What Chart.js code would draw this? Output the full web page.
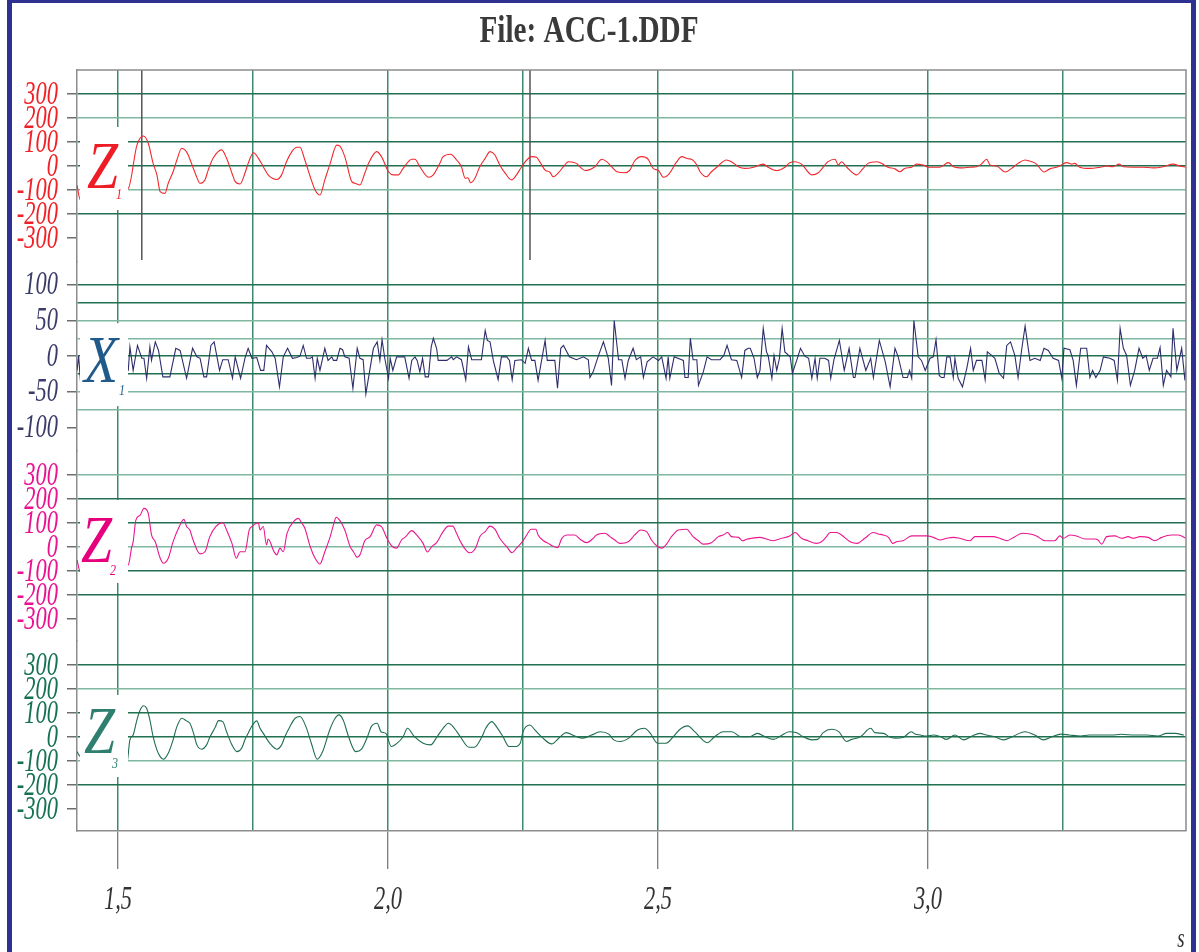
<!DOCTYPE html>
<html>
<head>
<meta charset="utf-8">
<title>File: ACC-1.DDF</title>
<script src="https://cdn.jsdelivr.net/npm/chart.js@4.4.1/dist/chart.umd.min.js"></script>
<style>
  html, body { margin: 0; padding: 0; background: #fff; }
</style>
</head>
<body>
<canvas id="chart1" width="1199" height="952"></canvas>
<script>
var chartTitle = 'File: ACC-1.DDF';

// time axis (s)
var timeMin = 1.424;
var timeMax = 3.478;
var timeTicks = [1.5, 1.75, 2.0, 2.25, 2.5, 2.75, 3.0, 3.25];
var timeLabelValues = [1.5, 2.0, 2.5, 3.0];
var timeLabels = ['1,5', '2,0', '2,5', '3,0'];
var timeUnit = 's';

// amplitude ticks
var zTicks = [300, 200, 100, 0, -100, -200, -300];
var xTicks = [100, 75, 50, 25, 0, -25, -50, -75, -100];
var xTickLabels = [100, 50, 0, -50, -100];

// channel names
var channelNames = ['Z', 'X', 'Z', 'Z'];
var channelSubs = ['1', '1', '2', '3'];

// event marks on the Z1 trace
var markerTimes = [1.544, 2.263];
var markerSpan = [400, -392];

// Z1
var z1Time = [
  1.424, 1.430, 1.519, 1.535, 1.547, 1.556, 1.565, 1.572, 1.578, 1.587,
  1.593, 1.602, 1.609, 1.618, 1.624, 1.630, 1.636, 1.643, 1.652, 1.661,
  1.667, 1.676, 1.692, 1.701, 1.711, 1.717, 1.726, 1.735, 1.741, 1.751,
  1.760, 1.769, 1.778, 1.794, 1.803, 1.812, 1.822, 1.831, 1.837, 1.846,
  1.856, 1.865, 1.874, 1.883, 1.893, 1.905, 1.911, 1.920, 1.933, 1.939,
  1.948, 1.957, 1.964, 1.979, 1.988, 2.001, 2.010, 2.019, 2.028, 2.044,
  2.050, 2.059, 2.075, 2.084, 2.096, 2.102, 2.116, 2.127, 2.136, 2.143,
  2.148, 2.153, 2.161, 2.170, 2.180, 2.189, 2.198, 2.207, 2.217, 2.229,
  2.238, 2.247, 2.257, 2.266, 2.275, 2.281, 2.291, 2.300, 2.306, 2.315,
  2.325, 2.334, 2.349, 2.356, 2.365, 2.383, 2.396, 2.405, 2.414, 2.424,
  2.439, 2.448, 2.457, 2.470, 2.482, 2.491, 2.501, 2.510, 2.519, 2.535,
  2.544, 2.556, 2.562, 2.572, 2.578, 2.590, 2.599, 2.609, 2.627, 2.636,
  2.649, 2.661, 2.677, 2.695, 2.704, 2.720, 2.735, 2.744, 2.754, 2.766,
  2.785, 2.797, 2.815, 2.828, 2.834, 2.840, 2.849, 2.868, 2.880, 2.889,
  2.905, 2.914, 2.926, 2.939, 2.948, 2.957, 2.970, 2.979, 2.991, 3.001,
  3.022, 3.038, 3.047, 3.065, 3.078, 3.090, 3.099, 3.109, 3.115, 3.127,
  3.143, 3.155, 3.167, 3.180, 3.192, 3.201, 3.215, 3.226, 3.241, 3.257,
  3.266, 3.272, 3.281, 3.300, 3.319, 3.331, 3.343, 3.354, 3.362, 3.380,
  3.398, 3.417, 3.436, 3.454, 3.466, 3.478
];
var z1Value = [
  -80, -140, -93, 87, 125, 95, 11, -37, -107, -114,
  -72, -24, 25, 74, 67, 46, 11, -30, -72, -58,
  -17, 32, 67, 32, -30, -65, -75, -30, 11, 55,
  32, -3, -37, -56, -37, 18, 60, 78, 78, 25,
  -45, -100, -121, -58, 11, 87, 83, 39, -65, -72,
  -79, -30, 11, 60, 39, -24, -37, -37, -10, 28,
  28, -3, -47, -37, 11, 39, 49, 25, -3, -51,
  -49, -70, -51, -3, 32, 60, 46, 4, -30, -58,
  -37, -5, 25, 39, 36, 18, -17, -26, -45, -30,
  -3, 18, 11, -5, -19, -3, 28, 18, -3, -24,
  -28, -17, 22, 39, 28, -10, -19, -47, -37, 18,
  39, 30, 28, 4, -24, -45, -24, -5, 25, 18,
  -3, -10, -5, 8, -5, -19, -5, 14, 18, 8,
  -37, -28, 18, 28, 4, 18, -3, -37, -10, 11,
  18, 11, -5, -12, -24, -10, -5, 8, 4, -5,
  -5, 14, -3, -8, -5, -3, 8, 28, 4, 0,
  -25, -10, 11, 25, 18, 8, -25, -12, -3, 14,
  8, 11, -5, -10, -5, 0, -3, 8, -3, -5,
  -5, -8, -3, 8, 0, -5
];

// X1
var x1Time = [
  1.424, 1.427, 1.431, 1.519, 1.522, 1.528, 1.536, 1.544, 1.548, 1.553,
  1.559, 1.562, 1.569, 1.575, 1.583, 1.596, 1.607, 1.615, 1.627, 1.638,
  1.646, 1.652, 1.659, 1.664, 1.672, 1.678, 1.688, 1.694, 1.704, 1.712,
  1.717, 1.727, 1.735, 1.741, 1.748, 1.757, 1.764, 1.770, 1.775, 1.785,
  1.791, 1.799, 1.806, 1.814, 1.823, 1.831,
  1.837, 1.843, 1.849, 1.856, 1.860, 1.865, 1.869, 1.874, 1.883, 1.889,
  1.896, 1.899, 1.905, 1.911, 1.916, 1.920, 1.928, 1.935, 1.943, 1.948,
  1.954, 1.959, 1.973, 1.980, 1.985, 1.989, 1.994, 2.001, 2.004, 2.009,
  2.016, 2.031, 2.039, 2.044, 2.050, 2.054, 2.059, 2.064, 2.069, 2.075,
  2.080, 2.084, 2.090, 2.093, 2.109, 2.118, 2.121, 2.127, 2.136, 2.144,
  2.149, 2.155, 2.173, 2.180, 2.184, 2.189, 2.195, 2.204, 2.210, 2.220,
  2.225, 2.230, 2.235, 2.247, 2.254, 2.260, 2.266, 2.272, 2.278, 2.291,
  2.295, 2.309, 2.314, 2.320, 2.325, 2.336, 2.349, 2.362, 2.371, 2.374,
  2.380, 2.389, 2.399, 2.408, 2.414, 2.419, 2.427, 2.433, 2.439, 2.445,
  2.454, 2.460, 2.468, 2.473, 2.480, 2.491, 2.501, 2.507, 2.515, 2.519,
  2.522, 2.530, 2.547, 2.550, 2.556, 2.560, 2.565, 2.572, 2.575, 2.584,
  2.591, 2.599, 2.615, 2.622, 2.628, 2.636, 2.646, 2.655, 2.661, 2.667,
  2.671, 2.678, 2.684, 2.689, 2.695, 2.701, 2.704, 2.711, 2.715, 2.720,
  2.725, 2.730, 2.735, 2.745, 2.749, 2.757, 2.764, 2.772, 2.779, 2.785,
  2.791, 2.795, 2.800, 2.809, 2.816, 2.820, 2.826, 2.836, 2.845, 2.854,
  2.862, 2.865, 2.874, 2.885, 2.894, 2.899, 2.910, 2.921, 2.930, 2.939,
  2.945, 2.954, 2.962, 2.966, 2.970, 2.974, 2.982, 2.988, 2.995, 3.004,
  3.010, 3.015, 3.021, 3.025, 3.030, 3.035, 3.041, 3.047, 3.050, 3.056,
  3.064, 3.072, 3.079, 3.084, 3.090, 3.100, 3.106, 3.110, 3.118, 3.124,
  3.132, 3.140, 3.146, 3.153, 3.161, 3.167, 3.174, 3.180, 3.189, 3.198,
  3.208, 3.215, 3.223, 3.232, 3.242, 3.248, 3.252, 3.263, 3.269, 3.275,
  3.283, 3.294, 3.300, 3.305, 3.311, 3.319, 3.325, 3.337, 3.345, 3.351,
  3.356, 3.362, 3.368, 3.375, 3.383, 3.391, 3.398, 3.404, 3.410, 3.417,
  3.425, 3.430, 3.436, 3.442, 3.450, 3.454, 3.461, 3.470, 3.476, 3.479
];
var x1Value = [
  -20, 0, -41, -20, 13, -20, 15, -3, -3, -31,
  13, -6, 20, 8, -29, -29, 11, 8, -31, 11,
  -1, -3, -29, -29, 15, 20, -20, -5, -5, -31,
  -1, -31, -3, 11, -3, -2, -20, -20, 15, 6,
  -3, -43, -1, 11, -3, -2,
  0, 15, -3, -3, -1, -31, -3, -20, 11, -6,
  -1, -6, -6, 11, 9, -1, -3, -45, 11, -3,
  -5, -53, 11, 20, -6, 23, -3, -31, -3, -20,
  -1, -1, -31, -6, -1, -6, -22, -3, -29, -29,
  13, 25, 11, -6, -6, -1, -5, -1, -5, -33,
  13, -5, -5, 36, 22, 20, -6, -33, -1, -1,
  -6, -33, -6, -5, -10, 11, -6, -6, -34, 22,
  -6, -6, -45, 11, 15, -1, -5, -1, -5, -30,
  -22, -1, 20, -3, -41, 50, -5, -5, -31, -6,
  11, -5, -1, -30, -8, -1, -6, -1, -31, -1,
  -31, -1, -6, -30, -30, 25, -5, -5, -41, -22,
  -1, -5, -5, 1, 15, -5, -6, -30, 8, 11,
  11, -3, -30, -20, 39, 6, 1, -31, 1, -20,
  -3, 39, 6, -1, -24, -6, 11, 0, -3, -31,
  -3, -31, -3, -3, -6, -31, -5, 22, -20, 11,
  -30, -30, 11, -20, -3, -30, 22, -8, -43, 11,
  -1, -30, -30, -20, -31, 50, -1, -6, -20, -3,
  -1, 23, -27, -30, -30, -1, -1, -30, -3, -31,
  -43, -17, 11, -20, -6, -6, -33, 6, 1, -3,
  -24, -31, 15, 20, 1, -30, 11, 42, -6, -3,
  -6, 11, 8, -3, -6, -31, 11, 9, -6, -41,
  11, 11, -30, -20, -30, -20, -1, -3, -6, -34,
  39, 11, 1, -41, -20, 11, -3, 1, -20, -3,
  -3, 12, -41, -20, -29, 39, -20, 11, -34, -6
];

// Z2
var z2Time = [
  1.424, 1.430, 1.519, 1.525, 1.528, 1.533, 1.541, 1.548, 1.556, 1.562,
  1.569, 1.577, 1.584, 1.593, 1.602, 1.612, 1.622, 1.627, 1.633, 1.639,
  1.652, 1.661, 1.670, 1.681, 1.694, 1.701, 1.711, 1.719, 1.726, 1.735,
  1.743, 1.749, 1.760, 1.763, 1.769, 1.775, 1.778, 1.789, 1.794, 1.800,
  1.806, 1.813, 1.825, 1.834, 1.840, 1.846, 1.856, 1.865, 1.874, 1.883,
  1.893, 1.899, 1.904, 1.911, 1.920, 1.930, 1.936, 1.943, 1.948, 1.957,
  1.967, 1.979, 1.988, 1.998, 2.007, 2.016, 2.025, 2.033, 2.044, 2.053,
  2.065, 2.073, 2.081, 2.090, 2.102, 2.112, 2.120, 2.127, 2.136, 2.146,
  2.152, 2.163, 2.170, 2.180, 2.189, 2.198, 2.207, 2.220, 2.230, 2.238,
  2.249, 2.257, 2.265, 2.274, 2.278, 2.288, 2.297, 2.305, 2.314, 2.322,
  2.331, 2.346, 2.356, 2.368, 2.380, 2.386, 2.402, 2.411, 2.420, 2.430,
  2.445, 2.457, 2.468, 2.479, 2.488, 2.498, 2.507, 2.516, 2.525, 2.538,
  2.553, 2.565, 2.575, 2.584, 2.599, 2.612, 2.621, 2.629, 2.636, 2.649,
  2.657, 2.664, 2.673, 2.689, 2.713, 2.729, 2.744, 2.754, 2.766, 2.778,
  2.793, 2.803, 2.811, 2.819, 2.831, 2.840, 2.856, 2.869, 2.883, 2.899,
  2.908, 2.917, 2.927, 2.935, 2.942, 2.954, 2.970, 2.985, 2.997, 3.010,
  3.022, 3.035, 3.047, 3.059, 3.078, 3.087, 3.102, 3.121, 3.133, 3.146,
  3.161, 3.175, 3.189, 3.201, 3.217, 3.235, 3.244, 3.251, 3.263, 3.275,
  3.291, 3.309, 3.315, 3.322, 3.331, 3.346, 3.359, 3.371, 3.380, 3.393,
  3.408, 3.420, 3.433, 3.451, 3.464, 3.478
];
var z2Value = [
  -54, -103, -75, -5, 22, 112, 133, 161, 140, 50,
  22, -40, -68, -47, 22, 78, 115, 85, 71, 29,
  -29, -20, 43, 85, 101, 71, 15, -47, -20, -20,
  71, 87, 101, 71, 85, 8, 33, -20, -33, -5,
  -20, 57, 105, 119, 101, 78, 1, -47, -71, -20,
  43, 92, 124, 110, 71, 1, -20, -43, -33, 26,
  43, 92, 85, 36, 4, -5, 29, 43, 68, 50,
  15, -21, 1, 18, 64, 87, 87, 57, 15, -17,
  -24, -1, 43, 64, 87, 74, 36, 1, -24, -5,
  22, 50, 74, 74, 50, 26, 15, 4, -3, 36,
  50, 50, 32, 18, 36, 50, 57, 43, 29, 15,
  22, 50, 71, 64, 29, 4, -5, 12, 43, 71,
  74, 43, 26, 12, 18, 43, 50, 60, 43, 40,
  26, 32, 36, 40, 26, 36, 46, 60, 36, 26,
  15, 22, 40, 60, 60, 50, 22, 15, 36, 60,
  54, 50, 40, 15, 22, 26, 46, 46, 46, 40,
  29, 36, 40, 36, 26, 43, 43, 43, 36, 26,
  43, 57, 54, 46, 26, 26, 46, 36, 50, 46,
  33, 33, 29, 12, 43, 46, 36, 43, 36, 43,
  40, 26, 40, 50, 50, 36
];

// Z3
var z3Time = [
  1.424, 1.430, 1.516, 1.522, 1.528, 1.535, 1.541, 1.547, 1.553, 1.559,
  1.565, 1.572, 1.578, 1.584, 1.593, 1.602, 1.609, 1.618, 1.626, 1.633,
  1.639, 1.646, 1.655, 1.664, 1.670, 1.680, 1.686, 1.694, 1.701, 1.711,
  1.720, 1.729, 1.735, 1.741, 1.748, 1.757, 1.763, 1.769, 1.781, 1.794,
  1.803, 1.809, 1.819, 1.828, 1.837, 1.848, 1.858, 1.869, 1.879, 1.892,
  1.901, 1.909, 1.917, 1.927, 1.940, 1.951, 1.962, 1.969, 1.980, 1.987,
  1.996, 2.006, 2.017, 2.028, 2.036, 2.049, 2.065, 2.079, 2.091, 2.102,
  2.112, 2.123, 2.134, 2.150, 2.160, 2.174, 2.181, 2.192, 2.203, 2.213,
  2.224, 2.235, 2.245, 2.250, 2.263, 2.271, 2.287, 2.303, 2.319, 2.330,
  2.346, 2.361, 2.377, 2.393, 2.409, 2.418, 2.430, 2.446, 2.462, 2.475,
  2.486, 2.499, 2.515, 2.531, 2.541, 2.555, 2.568, 2.584, 2.591, 2.605,
  2.621, 2.637, 2.653, 2.670, 2.684, 2.700, 2.714, 2.727, 2.743, 2.757,
  2.769, 2.785, 2.796, 2.806, 2.822, 2.835, 2.849, 2.859, 2.875, 2.894,
  2.902, 2.918, 2.928, 2.939, 2.955, 2.969, 2.976, 2.986, 2.997, 3.011,
  3.024, 3.034, 3.050, 3.066, 3.082, 3.096, 3.108, 3.124, 3.140, 3.156,
  3.180, 3.198, 3.214, 3.230, 3.246, 3.262, 3.283, 3.299, 3.320, 3.341,
  3.357, 3.384, 3.405, 3.426, 3.442, 3.458, 3.474
];
var z3Value = [
  -61, -82, -117, -12, 8, 71, 112, 130, 120, 71,
  1, -54, -82, -93, -68, -12, 43, 78, 68, 57,
  22, -33, -51, -33, -1, 40, 68, 64, 22, -33,
  -61, -47, -12, 15, 46, 67, 36, 15, -26, -51,
  -33, 1, 46, 78, 85, 43, -26, -93, -61, 29,
  74, 92, 71, 1, -61, -51, 1, 43, 57, 22,
  15, -40, -26, 1, 36, 1, -26, -33, 1, 36,
  57, 36, 1, -43, -43, 1, 36, 64, 36, 1,
  -40, -40, -26, 22, 50, 32, -5, -29, 1, 18,
  4, -5, 8, 22, 12, -12, -19, -5, 29, 36,
  15, -26, -26, 8, 32, 46, 22, -15, -24, 1,
  22, 22, 1, 1, 15, -1, -10, 4, 22, 18,
  1, -12, -10, 18, 32, 22, -19, -10, 1, 36,
  18, 15, 1, -5, -1, 22, 12, 8, 4, 8,
  1, -10, 8, -12, 4, 15, 8, 1, -12, 1,
  22, 8, -12, 1, 12, 8, 4, 8, 8, 8,
  11, 8, 8, 4, 15, 15, 8
];

function pts(ts, vs) {
  return ts.map(function (t, i) { return { x: t, y: vs[i] }; });
}

// per panel look
var panelStyle = {
  yZ1: { line: '#f0282d', tick: '#ee2227', big: '#ee1d25', box: [-39, 44], base: 22, letterX: 87, subX: 116, subBase: 33 },
  yX1: { line: '#2d2e6b', tick: '#3b3b69', big: '#1f5a8a', box: [-33, 50], base: 26, letterX: 84, subX: 119, subBase: 39 },
  yZ2: { line: '#e9178f', tick: '#ea1290', big: '#e6007e', box: [-47, 36], base: 15, letterX: 81, subX: 110, subBase: 28 },
  yZ3: { line: '#1f6e50', tick: '#157152', big: '#2f7f70', box: [-42, 40], base: 16, letterX: 84, subX: 112, subBase: 31 }
};
var panelIds = ['yZ1', 'yX1', 'yZ2', 'yZ3'];
var lightLines = { yZ1: [200, -100], yX1: [50, 25, -50, -75], yZ2: [300, 0], yZ3: [200, -100] };
var gridDark = '#217052';
var gridLight = '#7fb7a1';

function drawText(c, text, x, y, font, color, sx, align, baseline) {
  c.save();
  c.font = font;
  c.fillStyle = color;
  c.textBaseline = baseline || 'middle';
  c.textAlign = 'left';
  var w = c.measureText(text).width * sx;
  var left = align === 'right' ? x - w : (align === 'center' ? x - w / 2 : x);
  c.translate(left, y);
  c.scale(sx, 1);
  c.fillText(text, 0, 0);
  c.restore();
}

function yAxis(id, min, max, weight, height, tickList, labelList) {
  var last = tickList[tickList.length - 1];
  return {
    type: 'linear', position: 'left', stack: 'ch', stackWeight: height, weight: weight,
    min: min, max: max,
    afterBuildTicks: function (s) { s.ticks = tickList.map(function (v) { return { value: v }; }); },
    afterFit: function (s) { s.width = 77; },
    ticks: { display: false },
    border: { display: true, color: '#8c8c8c', width: 1.5 },
    grid: {
      lineWidth: 1.6,
      color: function (c) {
        var v = c.tick ? c.tick.value : 0;
        if (v === last) return 'rgba(0,0,0,0)';
        return lightLines[id].indexOf(v) >= 0 ? gridLight : gridDark;
      },
      drawTicks: true, tickLength: 10, tickWidth: 1.2,
      tickColor: function (c) {
        return c.tick && labelList.indexOf(c.tick.value) >= 0 ? '#4a4a4a' : 'rgba(0,0,0,0)';
      }
    }
  };
}

var frame = {
  id: 'frame',
  beforeDraw: function (chart) {
    var c = chart.ctx;
    c.save();
    c.fillStyle = '#ffffff';
    c.fillRect(0, 0, chart.width, chart.height);
    c.fillStyle = '#2e3192';
    c.fillRect(7, 0, 5, chart.height);
    c.fillRect(1191, 0, 5, chart.height);
    c.fillRect(7, 0, 1189, 3);
    c.restore();
    drawText(c, chartTitle, 589, 42, 'bold 37px "Liberation Serif"', '#3a3a3a', 0.79, 'center', 'alphabetic');
  },
  afterDatasetsDraw: function (chart) {
    var c = chart.ctx;
    var a = chart.chartArea;
    c.save();
    c.strokeStyle = '#8c8c8c';
    c.lineWidth = 1.5;
    c.beginPath();
    c.moveTo(a.left, a.top);
    c.lineTo(a.right, a.top);
    c.lineTo(a.right, a.bottom);
    c.stroke();
    c.restore();
    panelIds.forEach(function (id, i) {
      var st = panelStyle[id];
      var y0 = chart.scales[id].getPixelForValue(0);
      c.save();
      c.fillStyle = '#ffffff';
      c.fillRect(a.left + 3, y0 + st.box[0], 48, st.box[1] - st.box[0]);
      c.restore();
      drawText(c, channelNames[i], st.letterX, y0 + st.base, 'italic 68px "Liberation Serif"', st.big, 0.82, 'left', 'alphabetic');
      drawText(c, channelSubs[i], st.subX, y0 + st.subBase, 'italic 15px "Liberation Serif"', st.big, 0.8, 'left', 'alphabetic');
    });
  },
  afterDraw: function (chart) {
    var c = chart.ctx;
    var font = 'italic 33px "Liberation Serif"';
    panelIds.forEach(function (id) {
      var s = chart.scales[id];
      var list = id === 'yX1' ? xTickLabels : zTicks;
      list.forEach(function (v) {
        drawText(c, String(v), 58, s.getPixelForValue(v) + 1, font, panelStyle[id].tick, 0.68, 'right');
      });
    });
    var xs = chart.scales.x;
    timeLabelValues.forEach(function (v, i) {
      drawText(c, timeLabels[i], xs.getPixelForValue(v), 900, font, '#333333', 0.68, 'center');
    });
    drawText(c, timeUnit, 1181, 940, 'italic 27px "Liberation Serif"', '#333333', 0.7, 'center');
  }
};

var ctx1 = document.getElementById('chart1').getContext('2d');
var chart1 = new Chart(ctx1, {
  type: 'line',
  data: {
    datasets: [{
      label: 'Z1', data: pts(z1Time, z1Value), yAxisID: 'yZ1',
      borderColor: panelStyle.yZ1.line, borderWidth: 1.1, pointRadius: 0,
      cubicInterpolationMode: 'monotone', fill: false
    }, {
      label: 'X1', data: pts(x1Time, x1Value), yAxisID: 'yX1',
      borderColor: panelStyle.yX1.line, borderWidth: 1.1, pointRadius: 0,
      tension: 0, fill: false
    }, {
      label: 'Z2', data: pts(z2Time, z2Value), yAxisID: 'yZ2',
      borderColor: panelStyle.yZ2.line, borderWidth: 1.1, pointRadius: 0,
      cubicInterpolationMode: 'monotone', fill: false
    }, {
      label: 'Z3', data: pts(z3Time, z3Value), yAxisID: 'yZ3',
      borderColor: panelStyle.yZ3.line, borderWidth: 1.1, pointRadius: 0,
      cubicInterpolationMode: 'monotone', fill: false
    }].concat(markerTimes.map(function (t) {
      return {
        label: 'mark', data: [{ x: t, y: markerSpan[0] }, { x: t, y: markerSpan[1] }], yAxisID: 'yZ1',
        borderColor: '#555555', borderWidth: 1.5, pointRadius: 0, fill: false
      };
    }))
  },
  options: {
    responsive: false,
    animation: false,
    devicePixelRatio: 1,
    layout: { padding: { left: 0, right: 13, top: 70, bottom: 0 } },
    plugins: {
      legend: { display: false },
      tooltip: { enabled: false },
      title: { display: false }
    },
    scales: {
      x: {
        type: 'linear', position: 'bottom', min: timeMin, max: timeMax,
        afterBuildTicks: function (s) { s.ticks = timeTicks.map(function (v) { return { value: v }; }); },
        afterFit: function (s) { s.height = 121; },
        ticks: { display: false },
        border: { color: '#8c8c8c', width: 1.5 },
        grid: {
          color: '#3f8a6c', lineWidth: 1.5,
          tickLength: 38, tickWidth: 1,
          tickColor: function (c) {
            return c.tick && timeLabelValues.indexOf(c.tick.value) >= 0 ? '#555555' : 'rgba(0,0,0,0)';
          }
        }
      },
      yZ1: yAxis('yZ1', -400, 400, 4, 192, zTicks, zTicks),
      yX1: yAxis('yX1', -133, 132, 3, 189, xTicks, xTickLabels),
      yZ2: yAxis('yZ2', -392, 400, 2, 190, zTicks, zTicks),
      yZ3: yAxis('yZ3', -392, 400, 1, 190, zTicks, zTicks)
    }
  },
  plugins: [frame]
});
</script>
</body>
</html>
